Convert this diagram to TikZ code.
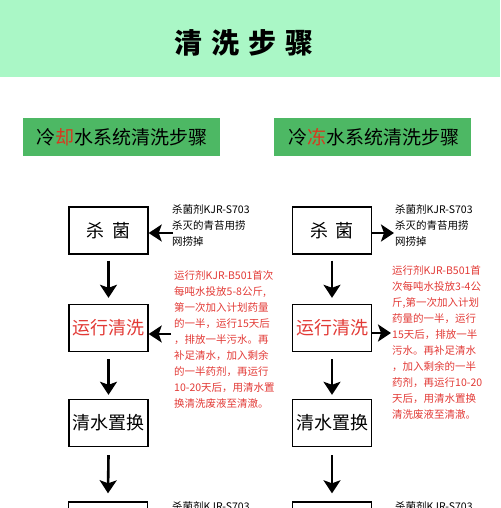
\documentclass[tikz,border=0pt]{standalone}
\usepackage{fontspec}
\setmainfont{Noto Sans CJK SC}
\usetikzlibrary{arrows.meta}
\definecolor{bandgreen}{HTML}{AAF7C6}
\definecolor{headgreen}{HTML}{4DB864}
\definecolor{txtred}{HTML}{E23A36}
\definecolor{hdred}{HTML}{D8381E}
\tikzset{
  stepbox/.style={draw=black,line width=1.4pt,minimum width=79pt,minimum height=47pt,inner sep=0pt,font=\fontsize{18}{20}\selectfont},
  headbox/.style={fill=headgreen,minimum width=197pt,minimum height=38pt,inner sep=0pt,font=\fontsize{19}{21}\selectfont},
  note/.style={anchor=north west,align=left,inner sep=0pt,font=\fontsize{10.5}{16}\selectfont},
  rednote/.style={note,text=txtred},
  arr/.style={line width=2.6pt,-{Stealth[width=17pt,length=13pt,inset=3pt]}},
}
\begin{document}
\begin{tikzpicture}[x=1pt,y=-1pt]
\useasboundingbox (0,0) rectangle (500,508);
\clip (0,0) rectangle (500,508);
% top band
\fill[bandgreen] (0,0) rectangle (500,77);
\node[font=\bfseries\fontsize{28}{30}\selectfont] (title) at (244,43) {清\hspace{9pt}洗\hspace{9pt}步\hspace{9pt}骤};
% headers
\node[headbox] (hl) at (121.5,137) {冷\textcolor{hdred}{却}水系统清洗步骤};
\node[headbox] (hr) at (372,137) {\hspace{3pt}冷\textcolor{hdred}{冻}水系统清洗步骤};
% left column
\node[stepbox] (l1) at (108.5,230.5) {杀\hspace{8pt}菌};
\node[stepbox,text=txtred] (l2) at (108.5,328) {运行清洗};
\node[stepbox] (l3) at (108.5,423) {清水置换};
\node[stepbox,minimum height=60pt] (l4) at (108,532) {};
% right column
\node[stepbox] (r1) at (332,230.5) {杀\hspace{8pt}菌};
\node[stepbox,text=txtred] (r2) at (332,328) {运行清洗};
\node[stepbox] (r3) at (332,423) {清水置换};
\node[stepbox,minimum height=60pt] (r4) at (332,532) {};
% notes left
\node[note] (nl1) at (172,204) {杀菌剂KJR-S703\\杀灭的青苔用捞\\网捞掉};
\node[rednote] (nl2) at (174,270) {运行剂KJR-B501首次\\每吨水投放5-8公斤,\\第一次加入计划药量\\的一半，运行15天后\\，排放一半污水。再\\补足清水，加入剩余\\的一半药剂，再运行\\10-20天后，用清水置\\换清洗废液至清澈。};
\node[note] (nl4) at (172,501) {杀菌剂KJR-S703};
% notes right
\node[note] (nr1) at (395,204) {杀菌剂KJR-S703\\杀灭的青苔用捞\\网捞掉};
\node[rednote] (nr2) at (392,265) {运行剂KJR-B501首\\次每吨水投放3-4公\\斤,第一次加入计划\\药量的一半，运行\\15天后，排放一半\\污水。再补足清水\\，加入剩余的一半\\药剂，再运行10-20\\天后，用清水置换\\清洗废液至清澈。};
\node[note] (nr4) at (395,501) {杀菌剂KJR-S703};
% connector ends
\coordinate (al1) at (173,233);
\coordinate (al2) at (171,334);
\coordinate (ar1) at (394,233);
\coordinate (ar2) at (391,333);
% down arrows
\draw[arr] ([yshift=-6pt]l1.south) -- ([yshift=6pt]l2.north);
\draw[arr] ([yshift=-7pt]l2.south) -- ([yshift=4pt]l3.north);
\draw[arr] ([yshift=-8pt]l3.south) -- ([yshift=8pt]l4.north);
\draw[arr] ([yshift=-6pt]r1.south) -- ([yshift=6pt]r2.north);
\draw[arr] ([yshift=-7pt]r2.south) -- ([yshift=4pt]r3.north);
\draw[arr] ([yshift=-8pt]r3.south) -- ([yshift=8pt]r4.north);
% side arrows
\draw[arr] (al1) -- (al1 -| l1.east);
\draw[arr] (al2) -- (al2 -| l2.east);
\draw[arr] (ar1 -| r1.east) -- (ar1);
\draw[arr] (ar2 -| r2.east) -- (ar2);
\end{tikzpicture}
\end{document}
